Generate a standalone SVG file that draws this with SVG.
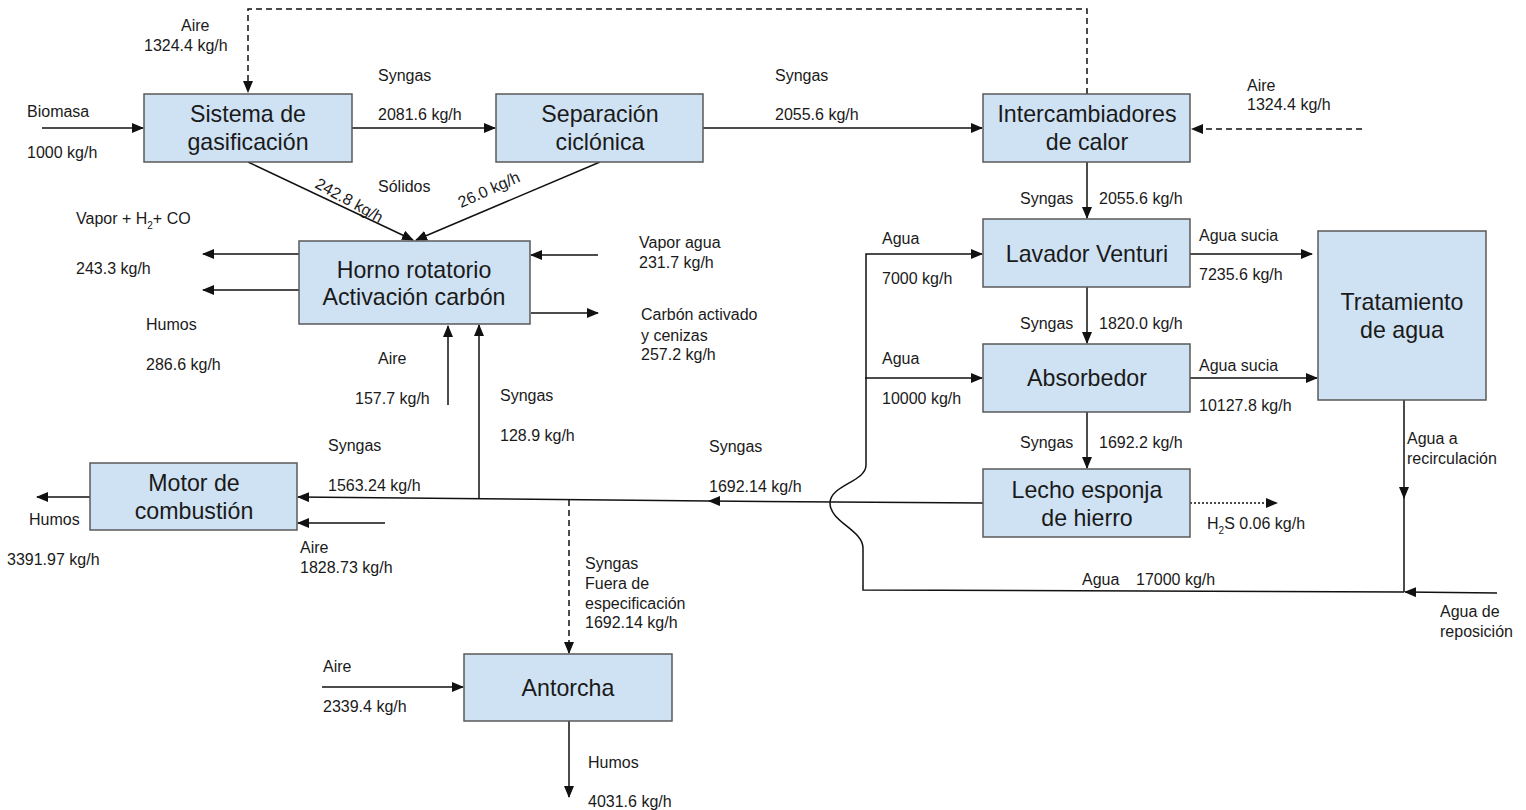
<svg xmlns="http://www.w3.org/2000/svg" width="1526" height="810" viewBox="0 0 1526 810">
<style>
.node rect{fill:#cfe2f3;stroke:#595959;stroke-width:1.5}
.node text{font-family:"Liberation Sans",Arial,sans-serif;font-size:23.2px;fill:#1a1a1a;text-anchor:middle}
.lbl{font-family:"Liberation Sans",Arial,sans-serif;font-size:16px;fill:#1a1a1a}
.c{fill:none;stroke:#111;stroke-width:1.5}
.d{stroke-dasharray:6,4}
.dot{stroke-dasharray:2,2}
</style>
<defs>
<marker id="a" markerWidth="12" markerHeight="10" refX="11" refY="5" orient="auto" markerUnits="userSpaceOnUse"><path d="M0,0 L12,5 L0,10 Z" fill="#111"/></marker>
</defs>
<rect width="1526" height="810" fill="#fff"/>
<g id="connectors">
<path class="c d" d="M1087,94 V9 H248 V92" marker-end="url(#a)"/>
<path class="c" d="M42,128 H143" marker-end="url(#a)"/>
<path class="c" d="M352,128 H495" marker-end="url(#a)"/>
<path class="c" d="M703,128 H982" marker-end="url(#a)"/>
<path class="c d" d="M1362,129 H1192" marker-end="url(#a)"/>
<path class="c" d="M248,162 L413,240" marker-end="url(#a)"/>
<path class="c" d="M600,162 L416,240" marker-end="url(#a)"/>
<path class="c" d="M299,254 H203" marker-end="url(#a)"/>
<path class="c" d="M299,290 H203" marker-end="url(#a)"/>
<path class="c" d="M598,255 H531" marker-end="url(#a)"/>
<path class="c" d="M531,313 H598" marker-end="url(#a)"/>
<path class="c" d="M448,405 V326" marker-end="url(#a)"/>
<path class="c" d="M479,498 V325" marker-end="url(#a)"/>
<path class="c" d="M983,503 L709,501" marker-end="url(#a)"/>
<path class="c" d="M709,501 L298,497" marker-end="url(#a)"/>
<path class="c" d="M90,497 H37" marker-end="url(#a)"/>
<path class="c" d="M385,523 H298" marker-end="url(#a)"/>
<path class="c d" d="M569,500 V653" marker-end="url(#a)"/>
<path class="c" d="M322,687 H463" marker-end="url(#a)"/>
<path class="c" d="M569,721 V797" marker-end="url(#a)"/>
<path class="c" d="M1087,162 V218" marker-end="url(#a)"/>
<path class="c" d="M1087,287 V343" marker-end="url(#a)"/>
<path class="c" d="M1087,412 V468" marker-end="url(#a)"/>
<path class="c" d="M1190,254 H1312" marker-end="url(#a)"/>
<path class="c" d="M1190,378 H1317" marker-end="url(#a)"/>
<path class="c dot" d="M1190,503 H1277" marker-end="url(#a)"/>
<path class="c" d="M1404,400 V498" marker-end="url(#a)"/>
<path class="c" d="M1404,496 V592"/>
<path class="c" d="M1497,593 L1405,592" marker-end="url(#a)"/>
<path class="c" d="M1404,592 L863,590 V548 C863,530 830,522 830,503 C830,485 866,482 866,465 V254 H982" marker-end="url(#a)"/>
<path class="c" d="M865,378 H982" marker-end="url(#a)"/>
</g>
<g id="n-gasificacion" class="node"><rect x="144" y="94" width="208" height="68"/><text x="248" y="122">Sistema de</text><text x="248" y="150">gasificación</text></g>
<g id="n-separacion" class="node"><rect x="496" y="94" width="207" height="68"/><text x="600" y="122">Separación</text><text x="600" y="150">ciclónica</text></g>
<g id="n-intercambiadores" class="node"><rect x="983" y="94" width="207" height="68"/><text x="1087" y="122">Intercambiadores</text><text x="1087" y="150">de calor</text></g>
<g id="n-horno" class="node"><rect x="299" y="241" width="231" height="83"/><text x="414" y="278">Horno rotatorio</text><text x="414" y="305">Activación carbón</text></g>
<g id="n-lavador" class="node"><rect x="983" y="219" width="207" height="68"/><text x="1087" y="262">Lavador Venturi</text></g>
<g id="n-absorbedor" class="node"><rect x="983" y="344" width="207" height="68"/><text x="1087" y="386">Absorbedor</text></g>
<g id="n-lecho" class="node"><rect x="983" y="469" width="207" height="68"/><text x="1087" y="498">Lecho esponja</text><text x="1087" y="526">de hierro</text></g>
<g id="n-tratamiento" class="node"><rect x="1318" y="231" width="168" height="169"/><text x="1402" y="310">Tratamiento</text><text x="1402" y="338">de agua</text></g>
<g id="n-motor" class="node"><rect x="90" y="463" width="207" height="67"/><text x="194" y="491">Motor de</text><text x="194" y="519">combustión</text></g>
<g id="n-antorcha" class="node"><rect x="464" y="654" width="208" height="67"/><text x="568" y="696">Antorcha</text></g>
<g id="labels" class="lbl">
<text x="181" y="31">Aire</text>
<text x="144" y="51">1324.4 kg/h</text>
<text x="27" y="117">Biomasa</text>
<text x="27" y="158">1000 kg/h</text>
<text x="378" y="81">Syngas</text>
<text x="378" y="120">2081.6 kg/h</text>
<text x="775" y="81">Syngas</text>
<text x="775" y="120">2055.6 kg/h</text>
<text x="1247" y="91">Aire</text>
<text x="1247" y="110">1324.4 kg/h</text>
<text x="378" y="192">Sólidos</text>
<text x="314" y="187" transform="rotate(29 314 187)">242.8 kg/h</text>
<text x="461" y="208" transform="rotate(-24 461 208)">26.0 kg/h</text>
<text x="76" y="224">Vapor + H<tspan font-size="10" dy="5">2</tspan><tspan dy="-5">+ CO</tspan></text>
<text x="76" y="274">243.3 kg/h</text>
<text x="146" y="330">Humos</text>
<text x="146" y="370">286.6 kg/h</text>
<text x="639" y="248">Vapor agua</text>
<text x="639" y="268">231.7 kg/h</text>
<text x="641" y="320">Carbón activado</text>
<text x="641" y="341">y cenizas</text>
<text x="641" y="360">257.2 kg/h</text>
<text x="378" y="364">Aire</text>
<text x="355" y="404">157.7 kg/h</text>
<text x="500" y="401">Syngas</text>
<text x="500" y="441">128.9 kg/h</text>
<text x="328" y="451">Syngas</text>
<text x="328" y="491">1563.24 kg/h</text>
<text x="709" y="452">Syngas</text>
<text x="709" y="492">1692.14 kg/h</text>
<text x="29" y="525">Humos</text>
<text x="7" y="565">3391.97 kg/h</text>
<text x="300" y="553">Aire</text>
<text x="300" y="573">1828.73 kg/h</text>
<text x="585" y="569">Syngas</text>
<text x="585" y="589">Fuera de</text>
<text x="585" y="609">especificación</text>
<text x="585" y="628">1692.14 kg/h</text>
<text x="323" y="672">Aire</text>
<text x="323" y="712">2339.4 kg/h</text>
<text x="588" y="768">Humos</text>
<text x="588" y="807">4031.6 kg/h</text>
<text x="1020" y="204">Syngas</text>
<text x="1099" y="204">2055.6 kg/h</text>
<text x="882" y="244">Agua</text>
<text x="882" y="284">7000 kg/h</text>
<text x="1199" y="241">Agua sucia</text>
<text x="1199" y="280">7235.6 kg/h</text>
<text x="1020" y="329">Syngas</text>
<text x="1099" y="329">1820.0 kg/h</text>
<text x="882" y="364">Agua</text>
<text x="882" y="404">10000 kg/h</text>
<text x="1199" y="371">Agua sucia</text>
<text x="1199" y="411">10127.8 kg/h</text>
<text x="1020" y="448">Syngas</text>
<text x="1099" y="448">1692.2 kg/h</text>
<text x="1407" y="444">Agua a</text>
<text x="1407" y="464">recirculación</text>
<text x="1207" y="529">H<tspan font-size="10" dy="5">2</tspan><tspan dy="-5">S 0.06 kg/h</tspan></text>
<text x="1082" y="585">Agua</text>
<text x="1136" y="585">17000 kg/h</text>
<text x="1440" y="617">Agua de</text>
<text x="1440" y="637">reposición</text>
</g>
</svg>
